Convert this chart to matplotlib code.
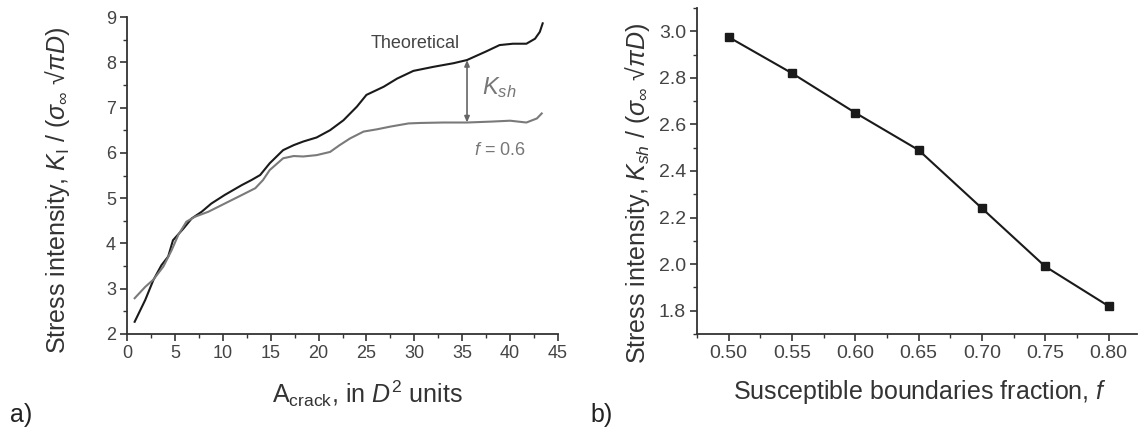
import matplotlib
matplotlib.use('Agg')
import matplotlib.pyplot as plt
from matplotlib.ticker import MultipleLocator, FormatStrFormatter

# panel a) digitised curves
a_theo_x = [0.8, 1.9, 2.75, 3.6, 4.3, 4.8, 5.9, 6.75, 7.8, 8.8, 10.2, 12.0, 13.0, 13.9, 14.9,
            16.3, 17.4, 18.4, 19.8, 21.2, 22.6, 24.0, 25.0, 26.8, 28.2, 29.9, 32.0, 34.1,
            35.5, 37.5, 38.9, 40.3, 41.7, 42.6, 43.1, 43.4]
a_theo_y = [2.27, 2.75, 3.19, 3.52, 3.71, 4.07, 4.33, 4.55, 4.70, 4.88, 5.07, 5.29, 5.40, 5.51, 5.77,
            6.06, 6.17, 6.25, 6.34, 6.50, 6.72, 7.02, 7.28, 7.46, 7.64, 7.81, 7.90, 7.98,
            8.05, 8.24, 8.38, 8.41, 8.41, 8.52, 8.67, 8.86]
a_f06_x = [0.8, 1.9, 2.75, 3.8, 4.66, 5.36, 6.2, 7.1, 8.5, 10.2, 12.0, 13.4, 14.2, 14.9, 16.3,
           17.4, 18.4, 19.8, 21.2, 22.2, 23.3, 24.7, 26.1, 27.5, 29.4, 30.6, 33.0, 35.5,
           38.0, 40.0, 41.7, 42.8, 43.3]
a_f06_y = [2.79, 3.04, 3.20, 3.49, 3.85, 4.19, 4.48, 4.59, 4.70, 4.88, 5.07, 5.22, 5.40, 5.62, 5.88,
           5.93, 5.92, 5.95, 6.02, 6.17, 6.32, 6.47, 6.52, 6.58, 6.65, 6.66, 6.67, 6.67,
           6.69, 6.71, 6.67, 6.76, 6.87]
ksh_x = 35.5
ksh_lo, ksh_hi = 6.67, 8.05

# panel b)
b_f = [0.50, 0.55, 0.60, 0.65, 0.70, 0.75, 0.80]
b_ksh = [2.975, 2.82, 2.65, 2.49, 2.24, 1.99, 1.82]

plt.rcParams['font.family'] = ['Liberation Sans', 'DejaVu Sans']
plt.rcParams['mathtext.fontset'] = 'custom'
plt.rcParams['mathtext.rm'] = 'Liberation Sans'
plt.rcParams['mathtext.it'] = 'Liberation Sans:italic'
plt.rcParams['mathtext.sf'] = 'Liberation Sans'

TXT = '#333333'
AX = '#333333'


def style(ax, fs):
    for s in ('top', 'right'):
        ax.spines[s].set_visible(False)
    for s in ('left', 'bottom'):
        ax.spines[s].set_color(AX)
        ax.spines[s].set_linewidth(1.3)
    ax.tick_params(which='major', direction='out', length=5, width=1.2, color=AX,
                   labelsize=fs, labelcolor='#444444', pad=3)
    ax.tick_params(which='minor', direction='out', length=3, width=1.0, color=AX)


fig = plt.figure(figsize=(11.4, 4.38), dpi=100)

# a)
ax = fig.add_axes([127 / 1140, 104 / 438, 431 / 1140, 317 / 438])
style(ax, 13)
ax.plot(a_theo_x, a_theo_y, color='#1a1a1a', lw=1.5)
ax.plot(a_f06_x, a_f06_y, color='#7a7a7a', lw=1.5)
ax.annotate('', xy=(ksh_x, ksh_hi), xytext=(ksh_x, ksh_lo),
            arrowprops=dict(arrowstyle='<|-|>,head_length=0.35,head_width=0.15',
                            color='#666666', lw=1.2, shrinkA=0, shrinkB=0))
ax.text(25.4, 8.42, 'Theoretical', fontsize=13, color='#444444', va='center')
ax.text(37.1, 7.45, r'$K_{sh}$', fontsize=17, color='#777777', va='center')
ax.text(36.2, 6.06, r'$f$ = 0.6', fontsize=13, color='#777777', va='center')
ax.set_xlim(0, 45)
ax.set_ylim(2, 9)
ax.xaxis.set_major_locator(MultipleLocator(5))
ax.xaxis.set_minor_locator(MultipleLocator(2.5))
ax.yaxis.set_major_locator(MultipleLocator(1))
ax.yaxis.set_minor_locator(MultipleLocator(0.5))
ax.set_xlabel(r'A$_{\rm crack}$, in $D^2$ units', fontsize=18, color=TXT)
ax.xaxis.set_label_coords(0.557, -0.139)
ax.set_ylabel('Stress intensity, $K_{\\rm I}$ / ($\\sigma_\\infty$ \u221a$\\pi D$)',
              fontsize=18, color=TXT)
ax.yaxis.set_label_coords(-0.128, 0.454)

# b)
bx = fig.add_axes([697 / 1140, 104 / 438, 440 / 1140, 326 / 438])
style(bx, 14)
bx.plot(b_f, b_ksh, color='#1a1a1a', lw=1.5, marker='s', markersize=5.5)
bx.set_xlim(0.475, 0.8225)
bx.set_ylim(1.7, 3.1)
bx.xaxis.set_major_locator(MultipleLocator(0.05))
bx.xaxis.set_minor_locator(MultipleLocator(0.025))
bx.yaxis.set_major_locator(MultipleLocator(0.2))
bx.yaxis.set_minor_locator(MultipleLocator(0.1))
bx.xaxis.set_major_formatter(FormatStrFormatter('%.2f'))
bx.yaxis.set_major_formatter(FormatStrFormatter('%.1f'))
bx.set_xlabel(r'Susceptible boundaries fraction, $f$', fontsize=18, color=TXT)
bx.xaxis.set_label_coords(0.507, -0.135)
bx.set_ylabel('Stress intensity, $K_{sh}$ / ($\\sigma_\\infty$ \u221a$\\pi D$)',
              fontsize=18, color=TXT)
bx.yaxis.set_label_coords(-0.102, 0.43)

fig.text(10 / 1140, 1 - 415 / 438, 'a)', fontsize=18, color='#222222', va='center')
fig.text(590 / 1140, 1 - 415 / 438, 'b)', fontsize=18, color='#222222', va='center')

fig.savefig('out.png', dpi=100)
